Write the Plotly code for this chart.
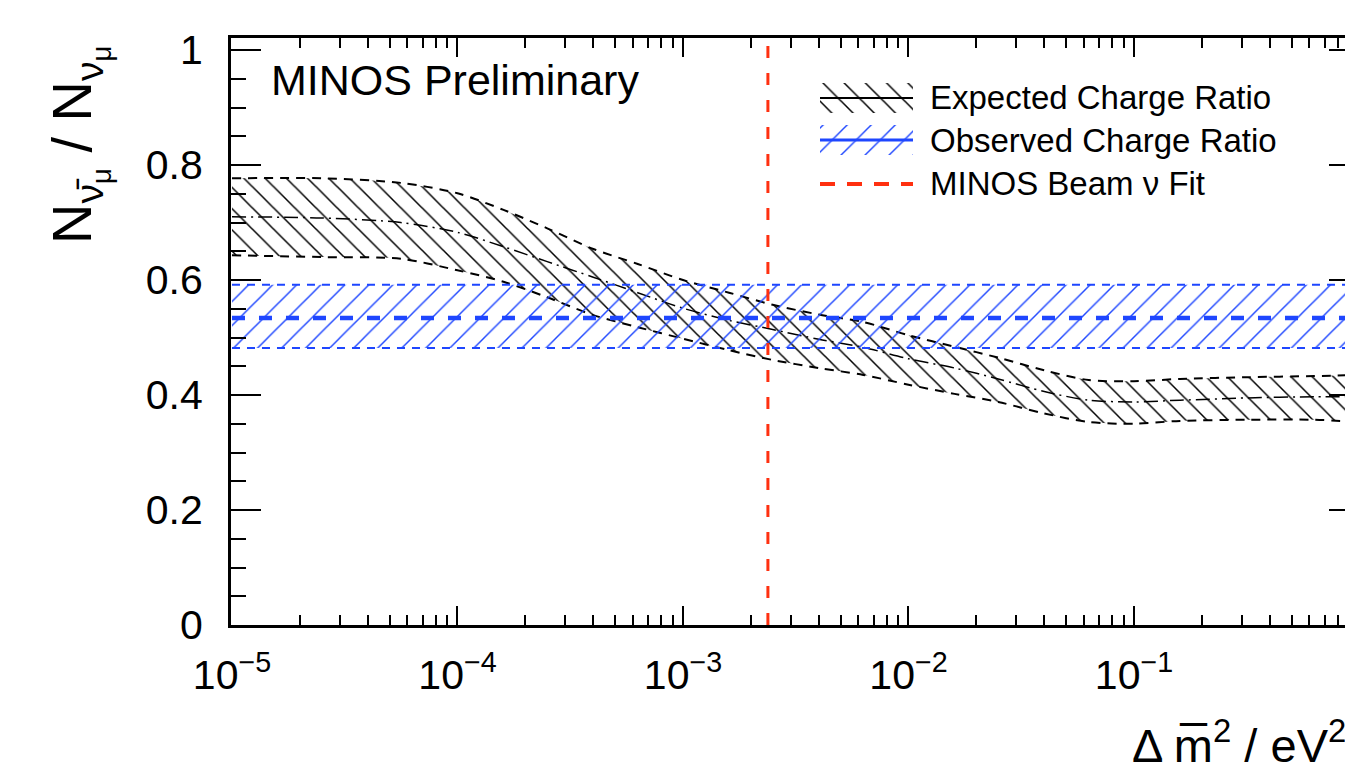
import plotly.graph_objects as go

# ---------------- data ----------------
dm2 = [1.0e-5, 2.5e-5, 5.6e-5, 1.0e-4, 1.6e-4, 2.5e-4, 4.0e-4, 6.3e-4, 1.0e-3,
       1.6e-3, 2.5e-3, 4.0e-3, 6.3e-3, 1.0e-2, 1.6e-2, 2.5e-2, 4.0e-2, 6.3e-2,
       1.0e-1, 1.6e-1, 3.2e-1, 6.3e-1, 1.0]
exp_upper = [0.777, 0.777, 0.769, 0.751, 0.722, 0.690, 0.654, 0.628, 0.600,
             0.578, 0.557, 0.540, 0.527, 0.504, 0.484, 0.465, 0.443, 0.426,
             0.424, 0.428, 0.431, 0.433, 0.435]
exp_central = [0.710, 0.708, 0.700, 0.683, 0.658, 0.632, 0.605, 0.578, 0.551,
               0.530, 0.514, 0.497, 0.483, 0.463, 0.447, 0.428, 0.406, 0.391,
               0.388, 0.391, 0.395, 0.397, 0.397]
exp_lower = [0.643, 0.640, 0.637, 0.617, 0.597, 0.570, 0.539, 0.518, 0.498,
             0.478, 0.461, 0.447, 0.435, 0.418, 0.402, 0.388, 0.368, 0.353,
             0.350, 0.355, 0.357, 0.357, 0.353]

obs_dm2 = [1.0e-5, 1.0]
obs_upper = [0.592, 0.592]
obs_central = [0.534, 0.534]
obs_lower = [0.482, 0.482]

beam_fit_dm2 = 2.38e-3

legend_labels = ["Expected Charge Ratio", "Observed Charge Ratio", "MINOS Beam \u03bd Fit"]

x_tick_vals = [1e-5, 1e-4, 1e-3, 1e-2, 1e-1, 1.0]
x_tick_text = ["10<sup>\u22125</sup>", "10<sup>\u22124</sup>", "10<sup>\u22123</sup>",
               "10<sup>\u22122</sup>", "10<sup>\u22121</sup>", "1"]
y_tick_vals = [0, 0.2, 0.4, 0.6, 0.8, 1.0]
y_tick_text = ["0", "0.2", "0.4", "0.6", "0.8", "1"]

X_RANGE = [-5.0044, -0.0288]   # log10 units
Y_RANGE = [0, 1.021]

x_minor = [m * 10.0 ** e for e in range(-5, 0) for m in range(2, 10)]

BLACK = "#000000"
BLUE = "#1e46ff"
RED = "#ff3010"
FONT = "Liberation Sans, Arial, Helvetica, sans-serif"

# page-pixel geometry of the plot frame (the page body has an 8px margin)
OFF = 8
PL, PR, PT, PB = 231, 1353, 38, 625
FIG_W, FIG_H = 1353 - OFF, 777 - OFF


def px(x):
    return (x - PL) / (PR - PL)


def py(y):
    return (PB - y) / (PB - PT)


fig = go.Figure()

# expected band (black, "\" hatch)
fig.add_trace(go.Scatter(x=dm2, y=exp_lower, mode="lines",
                         line=dict(color=BLACK, width=2, dash="9px,7px", shape="spline", smoothing=0.8),
                         hoverinfo="skip"))
fig.add_trace(go.Scatter(x=dm2, y=exp_upper, mode="lines", name=legend_labels[0],
                         fill="tonexty", fillcolor="rgba(0,0,0,0)",
                         fillpattern=dict(shape="\\", size=15, solidity=0.1, fgcolor=BLACK,
                                          bgcolor="rgba(0,0,0,0)", fillmode="replace"),
                         line=dict(color=BLACK, width=2, dash="9px,7px", shape="spline", smoothing=0.8)))
fig.add_trace(go.Scatter(x=dm2, y=exp_central, mode="lines",
                         line=dict(color=BLACK, width=1.5, dash="14px,5px,2px,5px", shape="spline", smoothing=0.8),
                         hoverinfo="skip"))

# observed band (blue, "/" hatch)
fig.add_trace(go.Scatter(x=obs_dm2, y=obs_lower, mode="lines",
                         line=dict(color=BLUE, width=2, dash="8px,7px"), hoverinfo="skip"))
fig.add_trace(go.Scatter(x=obs_dm2, y=obs_upper, mode="lines", name=legend_labels[1],
                         fill="tonexty", fillcolor="rgba(0,0,0,0)",
                         fillpattern=dict(shape="/", size=17, solidity=0.085, fgcolor=BLUE,
                                          bgcolor="rgba(0,0,0,0)", fillmode="replace"),
                         line=dict(color=BLUE, width=2, dash="8px,7px")))
fig.add_trace(go.Scatter(x=obs_dm2, y=obs_central, mode="lines",
                         line=dict(color=BLUE, width=4.5, dash="13px,14px"), hoverinfo="skip"))

# beam fit
fig.add_trace(go.Scatter(x=[beam_fit_dm2, beam_fit_dm2], y=Y_RANGE, mode="lines",
                         name=legend_labels[2],
                         line=dict(color=RED, width=3, dash="12px,15px")))

# helper trace for the right-hand tick axis
fig.add_trace(go.Scatter(x=[], y=[], yaxis="y2", hoverinfo="skip"))

# ---- legend keys drawn on a small auxiliary axis pair (unit box per row) ----
LEG_X0, LEG_X1 = 820, 913          # key box, page px
LEG_Y_TOP, LEG_Y_BOT = 80, 200     # key area, page px
row_centers = [98, 140, 184]


def ly(y):
    return (LEG_Y_BOT - y) / (LEG_Y_BOT - LEG_Y_TOP)


half = 15 / (LEG_Y_BOT - LEG_Y_TOP)
key_box_x = [0, 1, 1, 0, 0]
for i, (shape, col, size, sol) in enumerate([("\\", BLACK, 15, 0.1), ("/", BLUE, 17, 0.085)]):
    c = ly(row_centers[i])
    fig.add_trace(go.Scatter(x=key_box_x, y=[c - half, c - half, c + half, c + half, c - half],
                             xaxis="x3", yaxis="y3", mode="none", fill="toself",
                             fillcolor="rgba(0,0,0,0)",
                             fillpattern=dict(shape=shape, size=size, solidity=sol, fgcolor=col,
                                              bgcolor="rgba(0,0,0,0)", fillmode="replace"),
                             hoverinfo="skip"))
fig.add_trace(go.Scatter(x=[0, 1], y=[ly(row_centers[0])] * 2, xaxis="x3", yaxis="y3",
                         mode="lines", line=dict(color=BLACK, width=2), hoverinfo="skip"))
fig.add_trace(go.Scatter(x=[0, 1], y=[ly(row_centers[1])] * 2, xaxis="x3", yaxis="y3",
                         mode="lines", line=dict(color=BLUE, width=3), hoverinfo="skip"))
fig.add_trace(go.Scatter(x=[0, 1], y=[ly(row_centers[2])] * 2, xaxis="x3", yaxis="y3",
                         mode="lines", line=dict(color=RED, width=4, dash="15px,12px"), hoverinfo="skip"))

annotations = [
    dict(text="MINOS Preliminary", xref="paper", yref="paper", x=px(269), y=py(80),
         xanchor="left", yanchor="middle", showarrow=False,
         font=dict(size=43, family=FONT, color="black")),
    dict(text="N<sub>\u03bd\u0304<sub>\u03bc</sub></sub> / N<sub>\u03bd<sub>\u03bc</sub></sub>",
         xref="paper", yref="paper", x=px(78), y=py(44), textangle=-90,
         xanchor="center", yanchor="top", showarrow=False,
         font=dict(size=56, family=FONT, color="black")),
    dict(text="\u0394 m\u0305<sup>2</sup> / eV<sup>2</sup>", xref="paper", yref="paper",
         x=px(1348), y=py(742), xanchor="right", yanchor="middle", showarrow=False,
         font=dict(size=47, family=FONT, color="black")),
]
for lab, yc in zip(legend_labels, row_centers):
    annotations.append(dict(text=lab, xref="paper", yref="paper", x=px(928), y=py(yc),
                            xanchor="left", yanchor="middle", showarrow=False,
                            font=dict(size=33, family=FONT, color="black")))

fig.update_layout(
    width=FIG_W, height=FIG_H, autosize=False,
    margin=dict(l=PL - OFF, r=FIG_W - (PR - OFF), t=PT - OFF, b=FIG_H - (PB - OFF), pad=0),
    paper_bgcolor="white", plot_bgcolor="white",
    font=dict(family=FONT, color="black"),
    showlegend=False,
    xaxis=dict(type="log", range=X_RANGE, tickmode="array", tickvals=x_tick_vals,
               ticktext=x_tick_text, ticks="inside", ticklen=19, tickwidth=1.5,
               tickcolor="black", showline=True, linewidth=3, linecolor="black",
               mirror="ticks", showgrid=False, zeroline=False,
               tickfont=dict(size=41, family=FONT, color="black"),
               ticklabelstandoff=12,
               minor=dict(tickmode="array", tickvals=x_minor, ticks="inside",
                          ticklen=10, tickwidth=1.5, tickcolor="black", showgrid=False)),
    yaxis=dict(range=Y_RANGE, tickmode="array", tickvals=y_tick_vals, ticktext=y_tick_text,
               ticks="inside", ticklen=30, tickwidth=1.5, tickcolor="black",
               showline=True, linewidth=3, linecolor="black", showgrid=False,
               zeroline=False, tickfont=dict(size=41, family=FONT, color="black"),
               ticklabelstandoff=17,
               minor=dict(dtick=0.05, ticks="inside", ticklen=15, tickwidth=1.5,
                          tickcolor="black", showgrid=False)),
    yaxis2=dict(range=Y_RANGE, overlaying="y", side="right", anchor="x",
                tickmode="array", tickvals=y_tick_vals, showticklabels=False,
                ticks="inside", ticklen=24, tickwidth=1.5, tickcolor="black",
                showline=False, showgrid=False, zeroline=False,
                minor=dict(dtick=0.05, ticks="inside", ticklen=8, tickwidth=1.5,
                           tickcolor="black", showgrid=False)),
    xaxis3=dict(domain=[px(LEG_X0), px(LEG_X1)], range=[0, 1], anchor="y3",
                visible=False, fixedrange=True),
    yaxis3=dict(domain=[py(LEG_Y_BOT), py(LEG_Y_TOP)], range=[0, 1], anchor="x3",
                visible=False, fixedrange=True),
    annotations=annotations,
)

fig.write_html("out.html")
